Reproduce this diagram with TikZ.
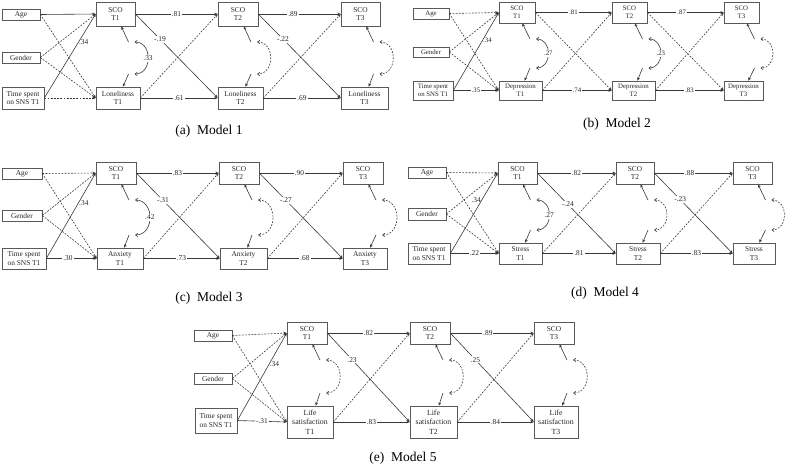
\documentclass[tikz,border=0pt]{standalone}
\usepackage{fontspec}
\setmainfont{Liberation Serif}
\usetikzlibrary{arrows.meta}
\newcommand{\nf}{\fontsize{7.4}{8.6}\selectfont}
\newcommand{\nfs}{\fontsize{6.8}{8}\selectfont}
\newcommand{\nfl}{\fontsize{7.8}{9.6}\selectfont}
\newcommand{\capf}{\fontsize{13.5}{15}\selectfont}
% residual pair: #1 id, #2 sco node, #3 outcome node, #4 cx, #5 sco bottom y, #6 outcome top y, #7 curve style, #8 optional label node
\newcommand{\rescorr}[8]{%
  \coordinate (u#1) at (#4+13,#5+16);
  \coordinate (l#1) at (#4+13,#6-13);
  \coordinate (cu#1) at (#4+19,#5+16);
  \coordinate (cl#1) at (#4+19,#6-13);
  \draw[ar] (u#1) -- (#2);
  \draw[ar] (l#1) -- (#3);
  \draw[#7] (cu#1) to[out=0,in=0,looseness=1.45] #8 (cl#1);
}
\begin{document}
\begin{tikzpicture}[x=1pt,y=-1pt,
  bx/.style={draw=black!65, line width=0.6pt, inner sep=0pt, align=center, font=\nf, text=black!85},
  ar/.style={draw=black!78, line width=0.6pt, -{Stealth[length=3.4pt,width=2.8pt]}},
  da/.style={ar, dash pattern=on 1.8pt off 1.4pt},
  cv/.style={draw=black!78, line width=0.6pt, {Straight Barb[length=2.2pt,width=3.2pt]}-{Straight Barb[length=2.2pt,width=3.2pt]}},
  cvd/.style={cv, dash pattern=on 1.8pt off 1.4pt},
  lb/.style={fill=white, inner sep=1pt, font=\nf, text=black!85},
  lw/.style={inner sep=0.5pt, font=\nf, text=black!85, anchor=west},
  le/.style={inner sep=0.5pt, font=\nf, text=black!85, anchor=east},
  capt/.style={font=\capf, text=black, inner sep=0pt}]
\useasboundingbox (0,0) rectangle (791,475);

%================ Model 1 =================
\node[bx, minimum width=38pt, minimum height=11pt] (a1) at (21,14.5) {Age};
\node[bx, minimum width=38pt, minimum height=11pt] (g1) at (21,57.5) {Gender};
\node[bx, minimum width=42pt, minimum height=22pt] (t1) at (23,98) {Time spent\\on SNS T1};
\node[bx, minimum width=39pt, minimum height=24pt] (s11) at (115.5,14) {SCO\\T1};
\node[bx, minimum width=44pt, minimum height=22pt] (o11) at (118,98) {Loneliness\\T1};
\node[bx, minimum width=40pt, minimum height=24pt] (s12) at (238,14) {SCO\\T2};
\node[bx, minimum width=45pt, minimum height=22pt] (o12) at (240.5,98) {Loneliness\\T2};
\node[bx, minimum width=39pt, minimum height=24pt] (s13) at (360.5,14) {SCO\\T3};
\node[bx, minimum width=47pt, minimum height=22pt] (o13) at (364.5,98) {Loneliness\\T3};
\draw[ar] (a1.east) -- (s11.west);
\draw[da] (a1.east) -- (o11.west);
\draw[da] (g1.east) -- (s11.west);
\draw[da] (g1.east) -- (o11.west);
\draw[ar] (t1.east) -- node[lw,pos=.66]{.34} (s11.west);
\draw[da] (t1.east) -- (o11.west);
\draw[ar] (s11.east) -- node[lb]{.81} (s12.west);
\draw[ar] (s11.east) -- node[lb,pos=.3]{-.19} (o12.west);
\draw[da] (o11.east) -- (s12.west);
\draw[ar] (o11.east) -- node[lb]{.61} (o12.west);
\draw[ar] (s12.east) -- node[lb,pos=.42]{.89} (s13.west);
\draw[ar] (s12.east) -- node[lb,pos=.3]{-.22} (o13.west);
\draw[da] (o12.east) -- (s13.west);
\draw[ar] (o12.east) -- node[lb]{.69} (o13.west);
\rescorr{m1a}{s11}{o11}{115.5}{26}{87}{cv}{node[lb]{.33}}
\rescorr{m1b}{s12}{o12}{238}{26}{87}{cvd}{}
\rescorr{m1c}{s13}{o13}{360.5}{26}{87}{cvd}{}
\node[capt] (capa) at (209,131) {(a)~ Model 1};

%================ Model 2 =================
\begin{scope}[bx/.append style={font=\nfs}, lb/.append style={font=\nfs}, lw/.append style={font=\nfs}]
\node[bx, minimum width=36pt, minimum height=11pt] (a2) at (431,13.5) {Age};
\node[bx, minimum width=36pt, minimum height=10pt] (g2) at (431,52) {Gender};
\node[bx, minimum width=40pt, minimum height=19pt] (t2) at (433,90.5) {Time spent\\on SNS T1};
\node[bx, minimum width=36pt, minimum height=21pt] (s21) at (517,12.5) {SCO\\T1};
\node[bx, minimum width=43pt, minimum height=19pt] (o21) at (520.5,90.5) {Depression\\T1};
\node[bx, minimum width=35pt, minimum height=21pt] (s22) at (629.5,12.5) {SCO\\T2};
\node[bx, minimum width=43pt, minimum height=19pt] (o22) at (633.5,90.5) {Depression\\T2};
\node[bx, minimum width=35pt, minimum height=21pt] (s23) at (741.5,12.5) {SCO\\T3};
\node[bx, minimum width=39pt, minimum height=19pt] (o23) at (743.5,90.5) {Depression\\T3};
\draw[da] (a2.east) -- (s21.west);
\draw[da] (a2.east) -- (o21.west);
\draw[da] (g2.east) -- (s21.west);
\draw[da] (g2.east) -- (o21.west);
\draw[ar] (t2.east) -- node[lw,pos=.64]{.34} (s21.west);
\draw[ar] (t2.east) -- node[lb]{.35} (o21.west);
\draw[ar] (s21.east) -- node[lb]{.81} (s22.west);
\draw[da] (s21.east) -- (o22.west);
\draw[da] (o21.east) -- (s22.west);
\draw[ar] (o21.east) -- node[lb]{.74} (o22.west);
\draw[ar] (s22.east) -- node[lb,pos=.45]{.87} (s23.west);
\draw[da] (s22.east) -- (o23.west);
\draw[da] (o22.east) -- (s23.west);
\draw[ar] (o22.east) -- node[lb]{.83} (o23.west);
\rescorr{m2a}{s21}{o21}{517}{23}{81}{cv}{node[lb]{.27}}
\rescorr{m2b}{s22}{o22}{629.5}{23}{81}{cv}{node[lb]{.23}}
\rescorr{m2c}{s23}{o23}{741.5}{23}{81}{cvd}{}
\end{scope}
\node[capt] (capb) at (617,124) {(b)~ Model 2};

%================ Model 3 =================
\node[bx, minimum width=40pt, minimum height=11pt] (a3) at (22,173.5) {Age};
\node[bx, minimum width=40pt, minimum height=11pt] (g3) at (22,215.5) {Gender};
\node[bx, minimum width=44pt, minimum height=21pt] (t3) at (24,258.5) {Time spent\\on SNS T1};
\node[bx, minimum width=40pt, minimum height=22pt] (s31) at (116,173) {SCO\\T1};
\node[bx, minimum width=46pt, minimum height=21pt] (o31) at (120,258.5) {Anxiety\\T1};
\node[bx, minimum width=40pt, minimum height=22pt] (s32) at (239,173) {SCO\\T2};
\node[bx, minimum width=47pt, minimum height=21pt] (o32) at (243.5,258.5) {Anxiety\\T2};
\node[bx, minimum width=40pt, minimum height=22pt] (s33) at (363,173) {SCO\\T3};
\node[bx, minimum width=44pt, minimum height=21pt] (o33) at (365,258.5) {Anxiety\\T3};
\draw[da] (a3.east) -- (s31.west);
\draw[da] (a3.east) -- (o31.west);
\draw[da] (g3.east) -- (s31.west);
\draw[da] (g3.east) -- (o31.west);
\draw[ar] (t3.east) -- node[lw,pos=.65]{.34} (s31.west);
\draw[ar] (t3.east) -- node[lb,pos=.43]{.30} (o31.west);
\draw[ar] (s31.east) -- node[lb]{.83} (s32.west);
\draw[ar] (s31.east) -- node[lb,pos=.32]{-.31} (o32.west);
\draw[da] (o31.east) -- (s32.west);
\draw[ar] (o31.east) -- node[lb]{.73} (o32.west);
\draw[ar] (s32.east) -- node[lb,pos=.48]{.90} (s33.west);
\draw[ar] (s32.east) -- node[lb,pos=.32]{-.27} (o33.west);
\draw[da] (o32.east) -- (s33.west);
\draw[ar] (o32.east) -- node[lb]{.68} (o33.west);
\rescorr{m3a}{s31}{o31}{116}{184}{248}{cv}{node[lb]{.42}}
\rescorr{m3b}{s32}{o32}{239}{184}{248}{cvd}{}
\rescorr{m3c}{s33}{o33}{363}{184}{248}{cvd}{}
\node[capt] (capc) at (209,298) {(c)~ Model 3};

%================ Model 4 =================
\node[bx, minimum width=38pt, minimum height=11pt] (a4) at (427,172.5) {Age};
\node[bx, minimum width=38pt, minimum height=12pt] (g4) at (427,214) {Gender};
\node[bx, minimum width=42pt, minimum height=21pt] (t4) at (429,253.5) {Time spent\\on SNS T1};
\node[bx, minimum width=39pt, minimum height=22pt] (s41) at (517.5,173) {SCO\\T1};
\node[bx, minimum width=43pt, minimum height=21pt] (o41) at (520.5,253.5) {Stress\\T1};
\node[bx, minimum width=38pt, minimum height=22pt] (s42) at (635,173) {SCO\\T2};
\node[bx, minimum width=44pt, minimum height=21pt] (o42) at (638,253.5) {Stress\\T2};
\node[bx, minimum width=39pt, minimum height=22pt] (s43) at (752.5,173) {SCO\\T3};
\node[bx, minimum width=42pt, minimum height=21pt] (o43) at (754,253.5) {Stress\\T3};
\draw[da] (a4.east) -- (s41.west);
\draw[da] (a4.east) -- (o41.west);
\draw[da] (g4.east) -- (s41.west);
\draw[da] (g4.east) -- (o41.west);
\draw[ar] (t4.east) -- node[le,pos=.66]{.34} (s41.west);
\draw[ar] (t4.east) -- node[lb]{.22} (o41.west);
\draw[ar] (s41.east) -- node[lb]{.82} (s42.west);
\draw[ar] (s41.east) -- node[lb,pos=.39]{-.24} (o42.west);
\draw[da] (o41.east) -- (s42.west);
\draw[ar] (o41.east) -- node[lb]{.81} (o42.west);
\draw[ar] (s42.east) -- node[lb,pos=.45]{.88} (s43.west);
\draw[ar] (s42.east) -- node[lb,pos=.33]{-.23} (o43.west);
\draw[da] (o42.east) -- (s43.west);
\draw[ar] (o42.east) -- node[lb]{.83} (o43.west);
\rescorr{m4a}{s41}{o41}{517.5}{184}{243}{cv}{node[lb]{.27}}
\rescorr{m4b}{s42}{o42}{635}{184}{243}{cvd}{}
\rescorr{m4c}{s43}{o43}{752.5}{184}{243}{cvd}{}
\node[capt] (capd) at (605,293) {(d)~ Model 4};

%================ Model 5 =================
\node[bx, minimum width=38pt, minimum height=11pt] (a5) at (213,335.5) {Age};
\node[bx, minimum width=38pt, minimum height=11pt] (g5) at (213,378.5) {Gender};
\node[bx, minimum width=42pt, minimum height=25pt] (t5) at (216,420.5) {Time spent\\on SNS T1};
\node[bx, minimum width=40pt, minimum height=22pt] (s51) at (307,333) {SCO\\T1};
\node[bx, minimum width=46pt, minimum height=32pt, font=\nfl] (o51) at (310,422) {Life\\satisfaction\\T1};
\node[bx, minimum width=40pt, minimum height=22pt] (s52) at (430,333) {SCO\\T2};
\node[bx, minimum width=47pt, minimum height=32pt, font=\nfl] (o52) at (433.5,422) {Life\\satisfaction\\T2};
\node[bx, minimum width=40pt, minimum height=22pt] (s53) at (554,333) {SCO\\T3};
\node[bx, minimum width=44pt, minimum height=32pt, font=\nfl] (o53) at (556,422) {Life\\satisfaction\\T3};
\draw[da] (a5.east) -- (s51.west);
\draw[da] (a5.east) -- (o51.west);
\draw[da] (g5.east) -- (s51.west);
\draw[da] (g5.east) -- (o51.west);
\draw[ar] (t5.east) -- node[lw,pos=.64]{.34} (s51.west);
\draw[ar] (t5.east) -- node[lb]{-.31} (o51.west);
\draw[ar] (s51.east) -- node[lb]{.82} (s52.west);
\draw[ar] (s51.east) -- node[lb,pos=.3]{.23} (o52.west);
\draw[da] (o51.east) -- (s52.west);
\draw[ar] (o51.east) -- node[lb]{.83} (o52.west);
\draw[ar] (s52.east) -- node[lb,pos=.45]{.89} (s53.west);
\draw[ar] (s52.east) -- node[lb,pos=.3]{.25} (o53.west);
\draw[da] (o52.east) -- (s53.west);
\draw[ar] (o52.east) -- node[lb]{.84} (o53.west);
\rescorr{m5a}{s51}{o51}{307}{344}{406}{cvd}{}
\rescorr{m5b}{s52}{o52}{430}{344}{406}{cvd}{}
\rescorr{m5c}{s53}{o53}{554}{344}{406}{cvd}{}
\node[capt] (cape) at (403,458) {(e)~ Model 5};
\end{tikzpicture}
\end{document}
